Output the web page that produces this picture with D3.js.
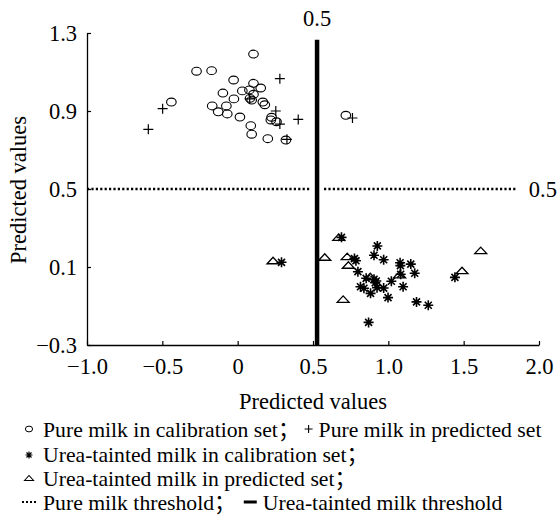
<!DOCTYPE html>
<html><head><meta charset="utf-8">
<script src="https://cdn.jsdelivr.net/npm/d3@7"></script>
<style>body{margin:0;background:#fff}svg{display:block}text{font-family:"Liberation Serif","Noto Sans CJK SC",serif;fill:#000}</style>
</head><body>
<svg id="c" width="557" height="520"></svg>
<script>
// Pure milk in calibration set (circles)
const pureCalX = [0.105,-0.273,-0.173,-0.027,0.105,0.153,-0.098,0.031,0.078,0.105,-0.025,0.082,0.093,0.167,0.180,-0.440,-0.169,-0.075,-0.129,-0.069,0.015,0.225,0.220,0.258,0.087,0.093,0.200,0.320,0.718];
const pureCalY = [1.192,1.104,1.107,1.059,1.042,1.018,0.992,1.003,1.008,0.986,0.962,0.965,0.956,0.946,0.932,0.946,0.926,0.926,0.896,0.885,0.869,0.868,0.854,0.845,0.825,0.781,0.758,0.751,0.878];
// Pure milk in predicted set (plus)
const purePredX = [0.280,0.080,-0.498,0.253,0.280,0.402,-0.593,0.327,0.762];
const purePredY = [1.066,0.962,0.912,0.900,0.833,0.857,0.806,0.755,0.864];
// Urea-tainted milk in calibration set (asterisks)
const ureaCalX = [0.689,0.291,0.927,0.905,0.969,0.775,0.785,1.078,1.080,1.149,0.798,1.175,0.853,0.905,0.920,0.913,1.020,1.082,0.815,0.838,0.925,0.969,1.098,0.882,0.998,1.187,1.265,1.442,0.869];
const ureaCalY = [0.252,0.124,0.208,0.160,0.137,0.143,0.132,0.122,0.107,0.115,0.076,0.068,0.042,0.037,0.028,0.019,0.027,0.063,-0.001,-0.009,-0.006,-0.008,-0.001,-0.035,-0.057,-0.079,-0.096,0.047,-0.184];
// Urea-tainted milk in predicted set (triangles)
const ureaPredX = [0.671,0.235,0.578,0.727,0.735,0.880,1.075,0.700,1.613,1.489];
const ureaPredY = [0.252,0.132,0.150,0.153,0.109,0.050,0.060,-0.066,0.184,0.081];
// thresholds
const pureThreshold = 0.5;
const ureaThreshold = 0.527;
const xTicks = [-1.0,-0.5,0,0.5,1.0,1.5,2.0];
const xTickLabels = ["\u22121.0","\u22120.5","0","0.5","1.0","1.5","2.0"];
const yTicks = [-0.3,0.1,0.5,0.9,1.3];
const yTickLabels = ["\u22120.3","0.1","0.5","0.9","1.3"];
const axisTitle = "Predicted values";
const legendItems = ["Pure milk in calibration set\uff1b","Pure milk in predicted set","Urea-tainted milk in calibration set\uff1b","Urea-tainted milk in predicted set\uff1b","Pure milk threshold\uff1b","Urea-tainted milk threshold"];

const svg = d3.select("#c");
const x = d3.scaleLinear().domain([-1.0,2.0]).range([87,539]);
const y = d3.scaleLinear().domain([-0.3,1.3]).range([345,33]);
const FS = 22.5;

// axes
const xAxis = d3.axisBottom(x).tickValues(xTicks).tickSizeInner(-4).tickSizeOuter(0).tickFormat((d,i)=>xTickLabels[i]);
const gx = svg.append("g").attr("transform",`translate(0,${y(-0.3)})`).call(xAxis);
const yAxis = d3.axisLeft(y).tickValues(yTicks).tickSizeInner(-4).tickSizeOuter(0).tickFormat((d,i)=>yTickLabels[i]);
const gy = svg.append("g").attr("transform",`translate(${x(-1.0)},0)`).call(yAxis);
[gx,gy].forEach(g=>{
  g.select(".domain").attr("stroke","#000").attr("stroke-width",1.3);
  g.selectAll(".tick line").attr("stroke","#000").attr("stroke-width",1.2);
  g.selectAll(".tick text").attr("font-family","Liberation Serif").attr("font-size",FS).attr("fill","#000");
});
gx.selectAll(".tick text").attr("y",21).attr("dy","0.34em");
gy.selectAll(".tick text").attr("x",-10).attr("dy","0.34em");

svg.append("text").attr("x",313).attr("y",401).attr("dy","0.34em").attr("text-anchor","middle").attr("font-size",FS).text(axisTitle);
svg.append("text").attr("transform","translate(18,190) rotate(-90)").attr("dy","0.34em").attr("text-anchor","middle").attr("font-size",FS).text(axisTitle);

// thresholds
const hDash = "2.2,2.2";
svg.append("line").attr("x1",x(-1.0)).attr("x2",x(0.487)).attr("y1",y(pureThreshold)).attr("y2",y(pureThreshold))
  .attr("stroke","#000").attr("stroke-width",2.4).attr("stroke-dasharray",hDash);
svg.append("line").attr("x1",x(0.573)).attr("x2",x(1.853)).attr("y1",y(pureThreshold)).attr("y2",y(pureThreshold))
  .attr("stroke","#000").attr("stroke-width",2.4).attr("stroke-dasharray",hDash);
svg.append("text").attr("x",x(1.853)+12).attr("y",y(pureThreshold)).attr("dy","0.34em").attr("font-size",FS).text("0.5");
svg.append("line").attr("x1",x(ureaThreshold)).attr("x2",x(ureaThreshold)).attr("y1",y(1.265)).attr("y2",y(-0.3))
  .attr("stroke","#000").attr("stroke-width",4.5);
svg.append("text").attr("x",x(ureaThreshold)).attr("y",18).attr("dy","0.34em").attr("text-anchor","middle").attr("font-size",FS).text("0.5");

// markers
const sym = {
  circle: g=>g.append("ellipse").attr("rx",4.8).attr("ry",3.9).attr("fill","none").attr("stroke","#000").attr("stroke-width",1.1),
  plus: g=>g.append("path").attr("d","M-5,0H5M0,-5V5").attr("stroke","#000").attr("stroke-width",1.2),
  star: g=>g.append("path").attr("d","M-5,0H5M0,-5V5M-3.5,-3.5L3.5,3.5M-3.5,3.5L3.5,-3.5").attr("stroke","#000").attr("stroke-width",1.6),
  tri: g=>g.append("path").attr("d","M-6,3L0,-3.5L6,3Z").attr("fill","none").attr("stroke","#000").attr("stroke-width",1.3)
};
function plot(xs,ys,kind){
  const data = xs.map((v,i)=>[v,ys[i]]);
  const g = svg.append("g");
  g.selectAll("g").data(data).join("g").attr("transform",d=>`translate(${x(d[0])},${y(d[1])})`).each(function(){sym[kind](d3.select(this));});
}
plot(pureCalX,pureCalY,"circle");
plot(purePredX,purePredY,"plus");
plot(ureaCalX,ureaCalY,"star");
plot(ureaPredX,ureaPredY,"tri");

// legend
const LF = 21.7;
const rows = [430,455,479,503];
function lt(xp,yp,t){return svg.append("text").attr("x",xp).attr("y",yp).attr("dy","0.34em").attr("font-size",LF).text(t);}
let g0 = svg.append("g").attr("transform",`translate(29,${rows[0]-1})`); g0.append("ellipse").attr("rx",3.6).attr("ry",2.9).attr("fill","none").attr("stroke","#000").attr("stroke-width",1);
const t1 = lt(43,rows[0],legendItems[0]);
const w1 = t1.node().getComputedTextLength();
const px = 43+w1+9;
svg.append("path").attr("transform",`translate(${px},${rows[0]-1})`).attr("d","M-4,0H4M0,-4V4").attr("stroke","#000").attr("stroke-width",1.1);
lt(px+10,rows[0],legendItems[1]);
svg.append("path").attr("transform",`translate(29,${rows[1]})`).attr("d","M-3.5,0H3.5M0,-3.5V3.5M-2.5,-2.5L2.5,2.5M-2.5,2.5L2.5,-2.5").attr("stroke","#000").attr("stroke-width",1.2);
lt(43,rows[1],legendItems[2]);
svg.append("path").attr("transform",`translate(29,${rows[2]-1})`).attr("d","M-4.5,2.5L0,-2.5L4.5,2.5Z").attr("fill","none").attr("stroke","#000").attr("stroke-width",1.1);
lt(43,rows[2],legendItems[3]);
svg.append("line").attr("x1",22).attr("x2",36).attr("y1",rows[3]-1).attr("y2",rows[3]-1).attr("stroke","#000").attr("stroke-width",2).attr("stroke-dasharray","2,2");
const t4 = lt(43,rows[3],legendItems[4]);
const w4 = t4.node().getComputedTextLength();
const bx = 43+w4+8;
svg.append("line").attr("x1",bx).attr("x2",bx+13).attr("y1",rows[3]-1).attr("y2",rows[3]-1).attr("stroke","#000").attr("stroke-width",3);
lt(bx+19,rows[3],legendItems[5]);
</script>
</body></html>
